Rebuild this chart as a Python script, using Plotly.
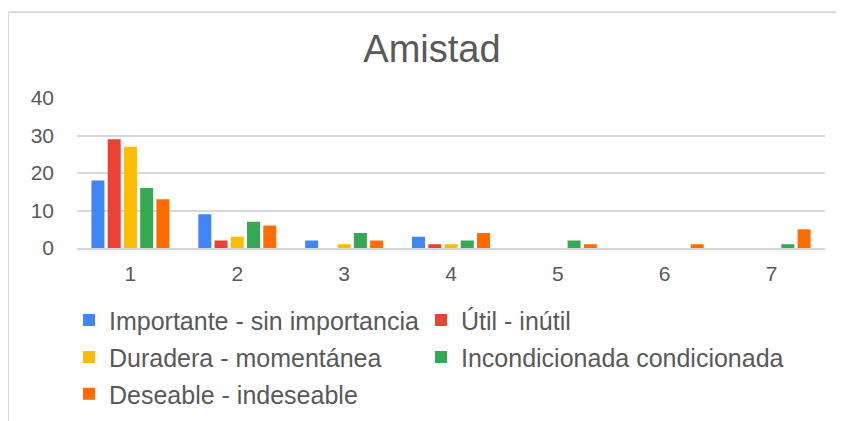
import plotly.graph_objects as go

categories = ["1", "2", "3", "4", "5", "6", "7"]
series_names = [
    "Importante - sin importancia",
    "Útil - inútil",
    "Duradera - momentánea",
    "Incondicionada condicionada",
    "Deseable - indeseable",
]
importante = [18, 9, 2, 3, 0, 0, 0]
util = [29, 2, 0, 1, 0, 0, 0]
duradera = [27, 3, 1, 1, 0, 0, 0]
incondicionada = [16, 7, 4, 2, 2, 0, 1]
deseable = [13, 6, 2, 4, 1, 1, 5]
y_ticks = [0, 10, 20, 30, 40]

colors = ["#4285F4", "#EA4335", "#FBBC04", "#34A853", "#FF6D01"]
series_values = [importante, util, duradera, incondicionada, deseable]

# page body has an 8px margin; work in page pixels and convert
OFF = 8
W, H = 844 - OFF, 421 - OFF
PLOT_L, PLOT_R, PLOT_T, PLOT_B = 77, 825, 98, 248.5
L = PLOT_L - OFF
R = (W + OFF) - PLOT_R
T = PLOT_T - OFF
B = (H + OFF) - PLOT_B
PW = PLOT_R - PLOT_L
PH = PLOT_B - PLOT_T

def px_x(px):
    return (px - PLOT_L) / PW

def px_y(py):
    return (PLOT_B - py) / PH

FONT = "Liberation Sans, Arial, sans-serif"
GRAY = "#595959"

fig = go.Figure()
legend_names = ["legend", "legend2", "legend3", "legend4", "legend5"]
for name, vals, col, lg in zip(series_names, series_values, colors, legend_names):
    fig.add_trace(go.Bar(
        x=categories, y=vals, name=name,
        marker=dict(color=col, line=dict(width=0)),
        legend=lg,
    ))

# legend positions (page pixels: left edge, row centre)
leg_pos = [(69, 321), (421, 321), (69, 358), (421, 358), (69, 395)]
layout_legends = {}
for lg, (lx, ly) in zip(legend_names, leg_pos):
    layout_legends[lg] = dict(
        x=px_x(lx), y=px_y(ly), xanchor="left", yanchor="middle",
        orientation="h", bgcolor="rgba(0,0,0,0)",
        font=dict(family=FONT, size=25, color=GRAY),
        itemclick=False, itemdoubleclick=False,
    )

fig.update_layout(
    width=W, height=H,
    margin=dict(l=L, r=R, t=T, b=B, pad=0, autoexpand=False),
    paper_bgcolor="white", plot_bgcolor="white",
    title=dict(text="Amistad", x=(432 - OFF) / W, xref="container", xanchor="center",
               y=1 - (49 - OFF) / H, yref="container", yanchor="middle",
               font=dict(family=FONT, size=38, color=GRAY)),
    barmode="group", bargap=0.24, bargroupgap=0.2,
    showlegend=True,
    **layout_legends,
    xaxis=dict(showgrid=False, showline=True, linecolor="#d9d9d9", linewidth=2,
               ticks="", tickfont=dict(family=FONT, size=21, color=GRAY),
               ticklabelstandoff=6, fixedrange=True),
    yaxis=dict(range=[0, 40], tickvals=y_ticks, showgrid=True, gridcolor="#d9d9d9",
               gridwidth=2, zeroline=False, showline=False, ticks="",
               tickfont=dict(family=FONT, size=21, color=GRAY),
               ticklabelstandoff=22, fixedrange=True),
    shapes=[dict(type="rect", xref="paper", yref="paper",
                 x0=px_x(8), x1=px_x(900), y0=px_y(12), y1=px_y(460),
                 line=dict(color="#d9d9d9", width=2), fillcolor="rgba(0,0,0,0)",
                 layer="below")],
)

fig.write_html("out.html")
